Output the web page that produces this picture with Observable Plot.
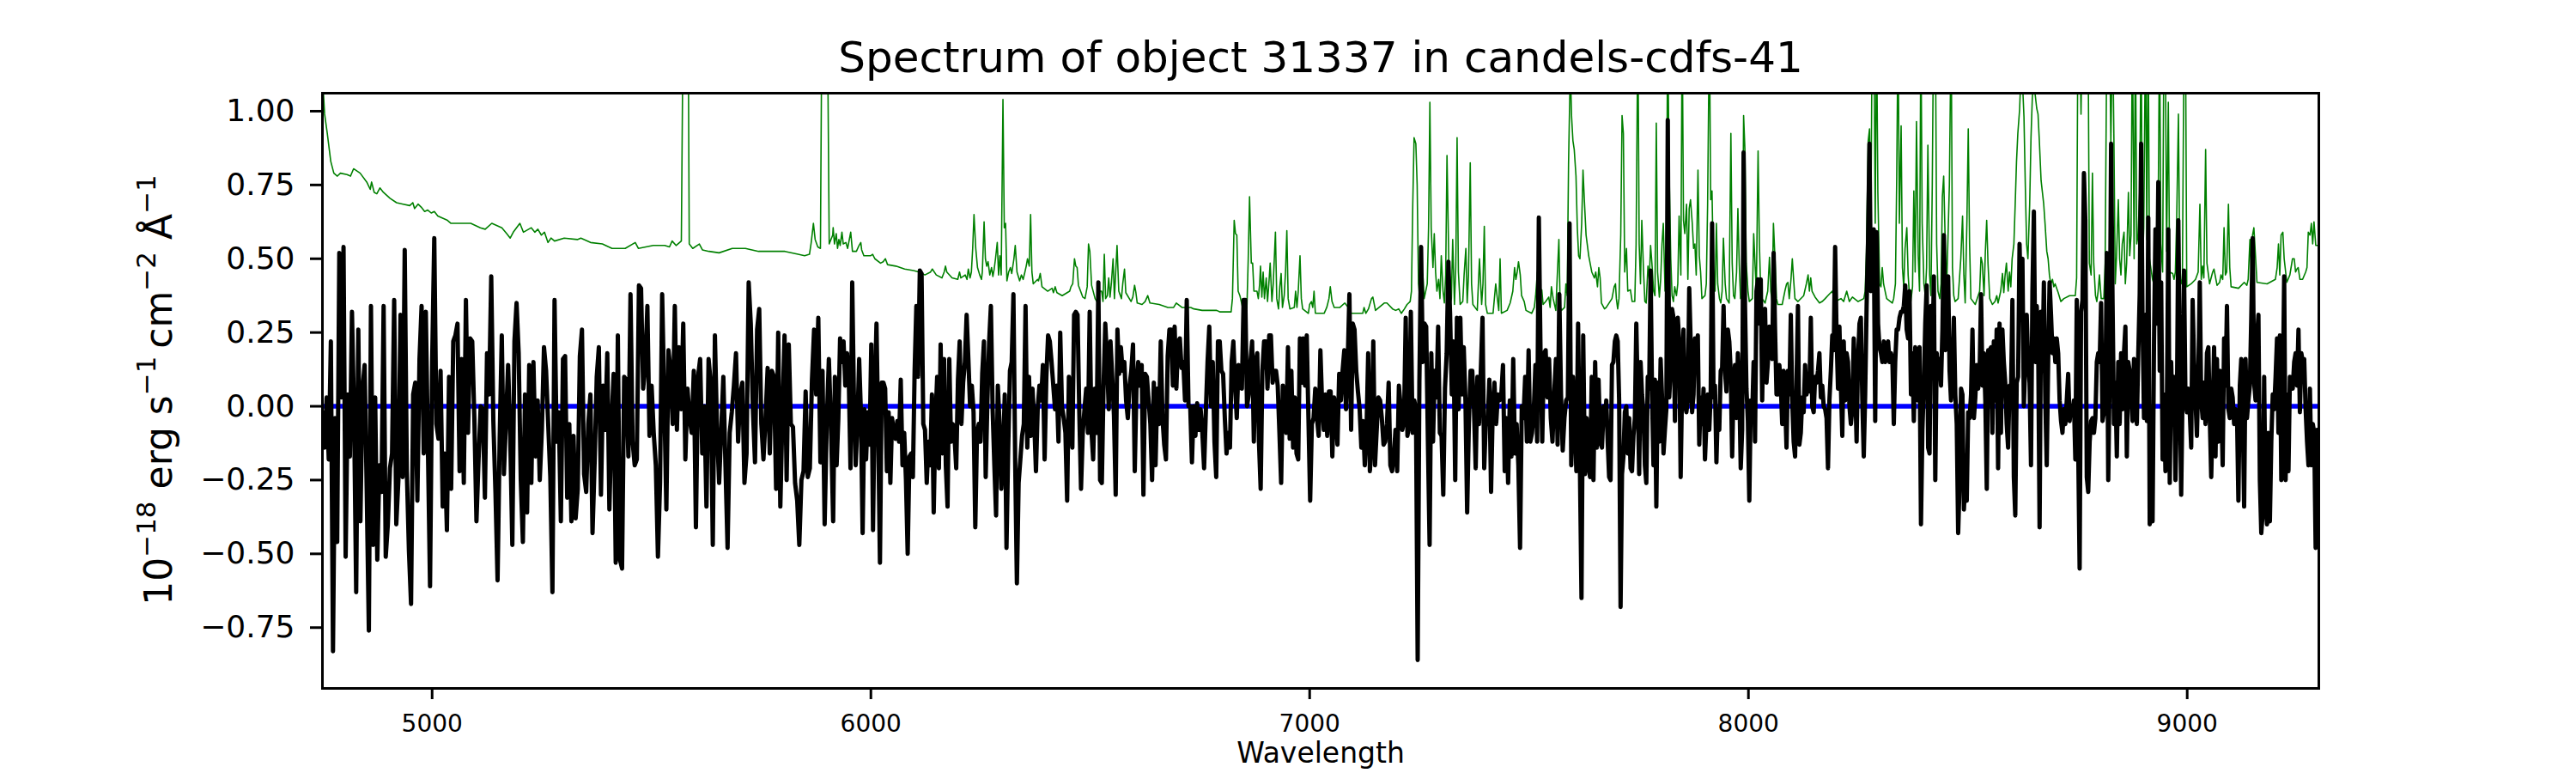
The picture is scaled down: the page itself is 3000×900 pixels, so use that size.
<!DOCTYPE html>
<html><head><meta charset="utf-8">
<script src="https://cdn.jsdelivr.net/npm/d3@7"></script>
<script src="https://cdn.jsdelivr.net/npm/@observablehq/plot@0.6"></script>
<style>html,body{margin:0;padding:0;background:#fff;} #chart{width:3000px;height:900px;}</style>
</head><body><div id="chart"></div>
<script>
const titleText = "Spectrum of object 31337 in candels-cdfs-41";
const xLabelText = "Wavelength";
const xTicks = [5000, 6000, 7000, 8000, 9000];
const yTicks = [-0.75, -0.5, -0.25, 0, 0.25, 0.5, 0.75, 1.0];
const xDomain = [4750, 9300];
const yDomain = [-0.956, 1.061];
const modelLevel = [0];

// black flux, read in five wavelength stretches (evenly sampled inside each)
const segStart = [4750, 5914, 6795, 7676, 8556];
const segEnd = [5909, 6791, 7674, 8553, 9296];
const fluxA = [-0.02,-0.14,0.03,-0.18,0.22,-0.83,-0.04,-0.46,0.52,0.03,0.54,-0.51,0.04,-0.17,0.32,-0.03,-0.63,0.26,-0.39,0.06,0.14,-0.29,-0.76,0.34,-0.47,0.03,-0.52,-0.2,-0.29,0.34,-0.51,-0.4,-0.21,-0.16,0.36,-0.4,-0.25,0.31,-0.24,0.53,-0.22,-0.49,-0.67,0.04,0.08,-0.32,0.16,0.34,-0.16,0.32,-0.14,-0.61,0.15,0.57,-0.06,-0.11,0.12,-0.34,-0.16,-0.42,0.1,-0.28,0.22,0.24,0.28,-0.22,0.16,-0.26,0.36,-0.09,0.23,0.22,-0.04,-0.39,-0.18,0,-0.01,-0.31,0.18,0.04,0.44,-0.05,-0.29,-0.59,-0.11,0.24,-0.23,-0.05,0.14,-0.1,-0.47,0.22,0.35,0.18,-0.25,-0.46,0.04,-0.36,0.14,-0.26,0.15,-0.17,0.02,-0.25,-0.08,0.2,0.12,-0.06,-0.24,-0.63,0.36,-0.12,-0.02,-0.39,0.16,0.17,-0.31,-0.06,-0.39,-0.1,-0.38,-0.28,0.17,0.26,-0.23,-0.29,-0.06,0.04,-0.43,-0.19,0.1,0.2,-0.3,0.07,-0.08,0.18,-0.35,-0.06,0.11,-0.53,0.24,-0.52,-0.55,0.1,0.09,-0.17,0.38,-0.12,-0.2,-0.18,0.41,0.4,0.06,0.14,0.34,-0.1,0.07,-0.09,-0.2,-0.51,-0.26,0.38,0.03,-0.35,0.19,0.12,-0.06,0.34,-0.08,0.2,-0.01,0.28,-0.18,0.06,-0.04,-0.09,0.12,-0.41,0.1,0.16,-0.16,0,-0.34,0.16,0.08,-0.47,0.24,-0.08,-0.26,-0.08,0.1,-0.2,-0.48,-0.09,-0.02,0.07,0.18,-0.12,0.04,0.08,-0.26,-0.16,0.42,0.28,-0.01,-0.19,0.26,0.33,-0.06,-0.18,-0.04,0.13,-0.16,0.12,0.1,-0.28,0.25,-0.34,-0.03,0.24,-0.25,0.21,-0.06,-0.07,-0.26,-0.32,-0.47,-0.25,-0.22,0.05,-0.24,-0.21,0.09,0.26,0.04,0.3,-0.19,0.12,-0.4,-0.06,0.16,-0.06];
const fluxB = [-0.39,0.1,-0.2,-0.04,0.23,0.15,0.22,0.07,0.18,0.1,-0.21,0.42,0.02,-0.2,-0.06,0.16,-0.02,-0.43,-0.01,-0.18,-0.02,-0.13,0.21,-0.42,0.04,0.28,-0.09,-0.53,0.08,0.08,0.06,-0.22,-0.02,-0.26,-0.04,-0.09,-0.11,-0.05,-0.12,0.09,-0.2,-0.09,-0.25,-0.5,-0.17,-0.16,-0.24,0.12,0.34,0.1,0.46,0.45,-0.06,-0.08,-0.26,-0.12,-0.2,0.04,-0.36,-0.05,0.1,-0.21,0.21,-0.16,0.16,-0.2,-0.34,0.16,-0.12,-0.06,-0.1,-0.21,0.09,0.22,-0.06,0.08,0.15,0.31,0.16,0,0.07,-0.02,-0.41,-0.09,-0.06,-0.12,0.11,0.22,-0.24,0.02,0.22,0.34,-0.01,-0.2,-0.37,0.07,-0.06,-0.28,-0.17,0.04,-0.48,-0.14,0.12,0.15,0.38,-0.18,-0.6,-0.26,-0.18,-0.1,-0.06,0.34,-0.14,0.1,-0.1,0.06,-0.05,-0.22,-0.01,0.07,0.02,0.14,-0.18,0.1,0.24,0.22,0.15,0.07,-0.01,0.07,-0.12,0.25,0,-0.04,-0.09,-0.32,0.1,-0.01,-0.14,0.31,0.32,0.31,-0.02,-0.28,-0.09,-0.01,0.06,-0.09,0.32,-0.08,-0.18,0.06,-0.09,0.42,-0.25,-0.26,0.07,0.28,0.16,-0.01,0.22,0.1,-0.03,-0.3,0.26,0.11,0.2,0.12,0.15,0.02,-0.04,0.07,0.12,0.21,-0.22,0.07,0.15,0.07,0.14,-0.3,0.11,0.1,0.02,-0.06,-0.25,0.08,-0.2,0.06,-0.06,0.22,-0.04,-0.13,-0.18,0.17,0.26,0.26,0.07,0.27,0.06,0.22,0.23,0.13,0.15,0.02,0.36,0,0,-0.19,0,-0.1,0.01,-0.08,-0.01,-0.09,-0.21,-0.02,0.15,0.27,0,0.15,-0.12,-0.24,0.22];
const fluxC = [0.22,0.12,0.11,-0.04,-0.16,-0.09,-0.14,0.15,0.22,0.07,-0.04,0.14,0.12,0.06,0.36,0.36,0,0.04,0.15,0.22,-0.12,0.15,0.18,-0.12,-0.28,0.12,0.22,0.22,0.06,0.24,0.24,0.08,0.12,0.12,0.07,-0.09,-0.26,0.07,-0.04,-0.09,0.2,-0.11,0.12,-0.14,0.03,-0.16,-0.18,0.23,0.08,0.23,0.07,0.24,-0.04,-0.32,-0.06,-0.04,0.06,-0.04,-0.1,0.19,0.01,-0.08,0.04,-0.1,0.05,0.05,-0.17,0.03,-0.01,-0.13,0.11,0.02,0.12,0.19,-0.01,0.15,0.38,-0.08,0.28,0.26,0.12,0.05,-0.01,-0.14,-0.05,-0.2,-0.09,0.18,-0.22,-0.12,0.22,-0.2,-0.08,0.03,0.02,-0.04,-0.13,-0.12,-0.06,0.08,-0.2,-0.22,-0.17,-0.08,-0.22,0.07,0,-0.08,-0.05,0.3,-0.1,-0.06,0.32,-0.09,0.02,-0.01,-0.86,0.08,0.54,0.15,0.28,0.27,-0.12,-0.47,0.18,-0.12,0.12,0.03,0.27,-0.09,-0.1,-0.3,0.06,0.18,0.49,0.31,0.04,0.22,-0.25,0.3,-0.01,0.3,0.04,0.2,0.02,-0.36,-0.06,0.12,0.12,-0.01,-0.21,0.1,-0.06,0.12,0.3,-0.21,-0.04,-0.06,0.09,-0.29,-0.01,0.08,-0.06,0.04,0.02,0.04,0.14,-0.22,-0.04,-0.26,0.02,-0.17,0.16,-0.16,-0.06,-0.2,-0.48,0,-0.04,0.1,-0.12,0.19,-0.12,-0.09,-0.02,0.14,-0.12,0.64,0.18,-0.12,0.18,0.19,0.03,0.16,-0.04,-0.12,0.04,0.16,-0.13,0.38,0.04,-0.15,-0.04,0.02,0.03,0.62,-0.2,0.1,-0.04,-0.22,0.28,-0.17,-0.65,0.24,-0.23,-0.04,-0.2,-0.24,0.1,-0.25,0.15,-0.14,0.09,-0.12,-0.14,0,-0.04];
const fluxD = [0.02,-0.12,-0.24,-0.25,0.14,0.15,0.22,0.24,0.22,0.02,-0.68,-0.23,-0.17,-0.02,0,-0.16,-0.04,-0.21,-0.22,-0.1,-0.04,0.28,0.04,-0.23,0.15,0.04,-0.02,-0.2,-0.26,0.1,0.06,0.46,0.04,-0.2,0.09,-0.34,0.08,-0.12,0.16,0.03,-0.16,-0.08,-0.01,0.97,0.03,0.12,0.33,0.3,-0.05,0.28,0.3,0.22,-0.24,0.07,0.26,0.01,-0.02,0.02,0.4,0.22,-0.02,0.04,0.23,0.14,0.24,-0.13,0.03,-0.06,0.06,-0.18,-0.06,0.04,-0.08,0.04,0.62,0.03,0.07,-0.19,-0.01,-0.08,0.12,0.13,0.34,0.12,0.05,0.26,0.22,0.12,-0.17,0.07,0.14,-0.04,0.18,0.06,-0.21,-0.08,0.86,0.34,0.06,-0.05,-0.32,0.02,-0.04,0.15,-0.12,0.39,0.43,0.28,0.43,0.02,0.31,0.33,0.08,0.15,0.27,0.26,0.16,0.52,0.26,0.04,0.04,0.14,0.07,-0.06,0.12,0.02,-0.14,0.12,0.04,0.31,0.02,-0.12,-0.17,0.08,0.34,-0.13,-0.09,0.03,-0.02,0.14,0.04,0.1,0.05,0.3,0,-0.02,0.1,0.08,0.12,0.18,0.03,0.07,0,-0.01,-0.04,-0.21,0.02,0.12,0.24,0.19,0.54,0.24,0.06,0.27,0.07,-0.1,0.22,0.02,0.18,0.15,0,-0.06,-0.01,0.23,0.08,-0.12,0.16,0.28,0.3,0.02,-0.17,0.04,0.34,0.56,0.89,0.39,0.55,0.6,-0.05,0.59,0.28,0.2,0.18,0.15,0.22,0.15,0.18,0.22,0.15,0.18,0.16,-0.06,0.15,0.26,0.26,0.3,0.32,0.32,0.34,0.41,0.26,0.23,0.39,0.04,0.18,-0.05,0.2,0.07,0.02,0.2,-0.4,-0.08,0.07,0.28,0.41,-0.14,-0.16,0.34,0.15,0.44,-0.25,0.18,0.12,0.16,0.07,0.26,0.58,0.19,0.2,0.44,0.12,0.02,0.1,0.3,0.04,-0.06,-0.43,-0.26,0.06,0.04,-0.35,-0.24,-0.32,-0.02,-0.04,0.04,0.26,-0.04,0.03,0.14,0.06,0.12,0.38,0.07,0.18,0.02,-0.28,0.19,0.19,0.2];
const fluxE = [-0.09,0.22,0.02,0.26,-0.21,0.28,-0.09,0.26,0.15,0.08,-0.06,-0.14,0.07,0.04,0.36,-0.24,-0.37,0.08,0.1,0.55,0.31,0.5,0,0.15,0.31,0.15,0.08,-0.2,0.39,0.66,0.15,0.34,0.23,-0.41,0.32,0.12,0.42,0.02,-0.2,0.15,0.42,0.31,0.18,0.23,0.15,0.23,0.18,0.02,-0.05,-0.09,-0.01,-0.06,0.02,0.11,-0.05,0,-0.02,0.02,-0.18,0.36,-0.14,-0.55,0.32,0.36,0.79,0.63,-0.24,-0.29,-0.12,-0.05,-0.04,-0.09,-0.04,0.15,0.18,0.15,0.35,-0.05,-0.02,0.04,0.52,-0.25,0.11,0.89,0.36,-0.06,0.08,-0.17,0.15,-0.06,0.18,-0.01,0.18,0.27,-0.17,0.15,0.12,0.04,-0.05,0.16,0.15,-0.06,0.18,0.38,0.89,0.28,-0.04,0.31,-0.05,0.64,-0.4,-0.04,-0.39,0.22,0.6,0.28,0.76,0.12,0.42,-0.18,0.04,-0.22,-0.01,0.6,-0.26,0.15,-0.05,0.1,-0.25,-0.01,0.63,0.12,-0.3,0.07,0.46,0.02,-0.02,0.06,-0.02,-0.14,0.36,0.15,0.02,-0.1,0.11,0.42,0.02,-0.04,0.08,-0.06,0.18,0.2,-0.04,-0.24,-0.02,0.2,-0.17,0.16,-0.12,0.12,0.02,-0.2,0.23,0.07,0.34,-0.01,-0.04,0.06,0.03,-0.06,-0.01,-0.02,-0.32,0.07,0.16,-0.01,-0.34,0.16,-0.04,0.02,0.07,0.3,0.57,0.08,0.02,0.23,0.31,-0.25,-0.43,-0.36,0.1,-0.33,-0.4,-0.09,-0.39,-0.12,0.04,-0.01,0.1,0.23,-0.09,0.24,-0.25,0.03,0.44,-0.25,0.04,-0.22,0.1,0.06,0.06,0.15,0.18,0.07,0.26,-0.02,0.18,0.15,0.16,-0.01,-0.12,-0.2,0.06,-0.2,-0.06,-0.09,-0.48,-0.08];

// green noise curve: [wavelength, value]
const errPairs = [[4750,1.12],[4755,0.99],[4761,0.925],[4769,0.83],[4776,0.79],[4784,0.78],[4791,0.79],[4806,0.785],[4814,0.78],[4821,0.805],[4836,0.79],[4851,0.76],[4859,0.735],[4862,0.76],[4868,0.725],[4874,0.72],[4881,0.74],[4889,0.725],[4904,0.705],[4919,0.69],[4934,0.685],[4949,0.68],[4956,0.69],[4960,0.67],[4968,0.685],[4975,0.675],[4983,0.66],[4990,0.665],[4998,0.655],[5005,0.66],[5013,0.645],[5035,0.63],[5043,0.62],[5065,0.62],[5088,0.62],[5110,0.605],[5121,0.6],[5136,0.62],[5159,0.605],[5170,0.585],[5178,0.57],[5185,0.59],[5200,0.62],[5208,0.59],[5226,0.605],[5234,0.59],[5241,0.6],[5249,0.58],[5256,0.59],[5264,0.555],[5271,0.57],[5279,0.56],[5301,0.57],[5331,0.565],[5339,0.57],[5361,0.555],[5388,0.55],[5410,0.535],[5440,0.535],[5463,0.555],[5470,0.535],[5504,0.545],[5530,0.545],[5541,0.54],[5547,0.56],[5556,0.545],[5568,0.56],[5573,1.5],[5577,2.0],[5583,1.5],[5586,0.55],[5594,0.535],[5609,0.55],[5616,0.53],[5631,0.525],[5654,0.52],[5684,0.535],[5714,0.535],[5744,0.525],[5774,0.525],[5804,0.525],[5834,0.515],[5849,0.51],[5860,0.515],[5864,0.555],[5869,0.62],[5873,0.565],[5879,0.54],[5885,0.535],[5889,1.5],[5894,2.0],[5900,1.5],[5905,0.55],[5913,0.58],
[5914,0.605],[5917,0.55],[5921,0.585],[5924,0.535],[5927,0.565],[5930,0.545],[5934,0.59],[5937,0.55],[5943,0.555],[5947,0.535],[5954,0.59],[5958,0.525],[5967,0.525],[5973,0.545],[5977,0.555],[5979,0.53],[5984,0.51],[5999,0.51],[6004,0.515],[6009,0.5],[6022,0.485],[6028,0.49],[6033,0.5],[6038,0.48],[6057,0.475],[6077,0.465],[6097,0.46],[6110,0.455],[6123,0.445],[6136,0.455],[6140,0.465],[6149,0.445],[6162,0.435],[6167,0.455],[6170,0.475],[6173,0.455],[6185,0.435],[6198,0.43],[6202,0.455],[6205,0.435],[6215,0.445],[6219,0.43],[6222,0.465],[6226,0.435],[6229,0.455],[6232,0.535],[6235,0.65],[6239,0.535],[6243,0.47],[6248,0.445],[6252,0.43],[6254,0.455],[6258,0.625],[6261,0.5],[6264,0.475],[6267,0.49],[6271,0.445],[6275,0.47],[6278,0.44],[6281,0.465],[6284,0.5],[6288,0.555],[6291,0.445],[6294,0.51],[6297,0.445],[6301,1.04],[6304,0.605],[6307,0.62],[6310,0.425],[6314,0.455],[6318,0.47],[6321,0.45],[6326,0.5],[6329,0.545],[6333,0.455],[6339,0.425],[6343,0.445],[6347,0.43],[6351,0.455],[6354,0.475],[6357,0.5],[6361,0.475],[6364,0.65],[6367,0.455],[6370,0.415],[6380,0.43],[6382,0.425],[6386,0.45],[6390,0.405],[6403,0.39],[6413,0.4],[6416,0.385],[6420,0.405],[6424,0.385],[6436,0.375],[6453,0.39],[6456,0.405],[6460,0.415],[6464,0.5],[6467,0.475],[6470,0.47],[6473,0.41],[6483,0.37],[6488,0.365],[6493,0.405],[6496,0.55],[6499,0.525],[6503,0.41],[6511,0.365],[6515,0.355],[6522,0.39],[6526,0.39],[6529,0.355],[6532,0.515],[6535,0.365],[6539,0.375],[6542,0.435],[6545,0.37],[6548,0.415],[6552,0.5],[6555,0.365],[6558,0.455],[6561,0.545],[6565,0.39],[6571,0.365],[6574,0.415],[6578,0.465],[6581,0.385],[6593,0.355],[6597,0.37],[6601,0.41],[6604,0.385],[6607,0.35],[6618,0.345],[6625,0.355],[6631,0.375],[6636,0.35],[6657,0.345],[6677,0.335],[6690,0.335],[6696,0.35],[6709,0.335],[6729,0.335],[6736,0.33],[6755,0.325],[6775,0.325],[6788,0.325],
[6795,0.32],[6821,0.32],[6824,0.365],[6828,0.63],[6831,0.585],[6834,0.58],[6837,0.39],[6841,0.375],[6847,0.335],[6854,0.325],[6857,0.335],[6860,0.5],[6863,0.71],[6867,0.485],[6870,0.485],[6873,0.39],[6880,0.39],[6883,0.365],[6886,0.415],[6888,0.475],[6891,0.37],[6894,0.455],[6897,0.365],[6901,0.435],[6904,0.355],[6907,0.415],[6910,0.485],[6914,0.355],[6917,0.415],[6922,0.59],[6925,0.365],[6929,0.33],[6932,0.405],[6935,0.45],[6938,0.335],[6942,0.375],[6945,0.455],[6948,0.595],[6951,0.365],[6955,0.33],[6965,0.335],[6968,0.39],[6971,0.335],[6974,0.39],[6978,0.51],[6981,0.365],[6984,0.33],[6997,0.315],[7000,0.345],[7004,0.355],[7007,0.335],[7010,0.39],[7013,0.315],[7033,0.315],[7039,0.335],[7044,0.365],[7047,0.405],[7051,0.355],[7056,0.335],[7069,0.335],[7080,0.35],[7088,0.335],[7095,0.315],[7121,0.315],[7124,0.335],[7128,0.315],[7134,0.33],[7141,0.365],[7144,0.37],[7150,0.325],[7170,0.35],[7176,0.35],[7189,0.33],[7196,0.325],[7203,0.33],[7209,0.315],[7216,0.33],[7222,0.345],[7229,0.355],[7232,0.39],[7235,0.685],[7238,0.91],[7242,0.89],[7245,0.75],[7248,0.415],[7251,0.365],[7255,0.455],[7258,0.445],[7261,0.365],[7268,0.415],[7271,0.605],[7274,1.03],[7277,0.605],[7281,0.47],[7284,0.585],[7287,0.455],[7290,0.39],[7294,0.43],[7297,0.365],[7300,0.51],[7304,0.39],[7307,0.35],[7310,0.445],[7313,0.85],[7317,0.5],[7320,0.345],[7323,0.365],[7326,0.565],[7330,0.345],[7333,0.47],[7336,0.91],[7339,0.455],[7343,0.345],[7349,0.355],[7352,0.445],[7356,0.535],[7359,0.35],[7362,0.445],[7366,0.825],[7369,0.415],[7372,0.345],[7382,0.325],[7387,0.5],[7392,0.345],[7395,0.415],[7398,0.61],[7401,0.345],[7405,0.315],[7418,0.315],[7424,0.415],[7427,0.375],[7431,0.325],[7434,0.5],[7437,0.315],[7450,0.325],[7457,0.35],[7463,0.39],[7467,0.47],[7470,0.43],[7473,0.455],[7476,0.49],[7480,0.445],[7483,0.375],[7489,0.355],[7493,0.325],[7506,0.315],[7512,0.335],[7515,0.375],[7519,0.455],[7522,0.39],[7529,0.395],[7532,0.345],[7538,0.355],[7545,0.37],[7548,0.335],[7551,0.405],[7555,0.365],[7561,0.325],[7564,0.43],[7568,0.565],[7571,0.335],[7574,0.325],[7581,0.335],[7584,0.415],[7587,0.375],[7590,0.82],[7594,1.15],[7597,0.98],[7600,0.9],[7603,0.87],[7607,0.78],[7610,0.605],[7613,0.51],[7616,0.5],[7620,0.62],[7623,0.8],[7626,0.7],[7630,0.58],[7636,0.51],[7643,0.455],[7649,0.435],[7652,0.455],[7656,0.405],[7659,0.47],[7662,0.435],[7665,0.35],[7672,0.33],
[7676,0.335],[7689,0.365],[7694,0.405],[7697,0.415],[7699,0.365],[7702,0.33],[7705,0.365],[7709,0.58],[7712,0.985],[7715,0.925],[7718,0.455],[7722,0.535],[7725,0.39],[7731,0.395],[7735,0.355],[7741,0.355],[7744,0.55],[7748,1.3],[7751,0.55],[7754,0.415],[7757,0.63],[7761,0.455],[7764,0.355],[7767,0.35],[7771,0.475],[7774,0.43],[7777,0.545],[7780,0.485],[7784,0.39],[7787,0.375],[7790,0.96],[7793,0.455],[7797,0.37],[7800,0.43],[7803,0.55],[7806,0.62],[7810,0.39],[7813,0.5],[7816,1.3],[7819,0.82],[7823,0.5],[7826,0.375],[7829,0.355],[7832,0.405],[7836,0.375],[7839,0.415],[7842,0.645],[7846,0.445],[7849,1.3],[7852,0.63],[7855,0.585],[7859,0.685],[7862,0.43],[7865,0.67],[7868,0.7],[7872,0.62],[7875,0.535],[7878,0.55],[7881,0.445],[7885,0.8],[7888,0.51],[7891,0.455],[7894,0.365],[7901,0.375],[7904,0.415],[7907,0.685],[7911,1.3],[7914,0.7],[7917,0.73],[7920,0.47],[7924,0.39],[7927,0.62],[7930,0.415],[7934,0.365],[7937,0.35],[7940,0.39],[7943,0.57],[7947,0.415],[7950,0.365],[7956,0.35],[7960,0.925],[7963,0.485],[7966,0.375],[7969,0.365],[7973,0.455],[7976,0.67],[7979,0.485],[7982,0.365],[7986,0.375],[7989,0.985],[7992,0.87],[7995,0.485],[7999,0.39],[8002,0.355],[8009,0.365],[8012,0.585],[8015,0.485],[8018,0.39],[8022,0.865],[8025,0.55],[8028,0.39],[8031,0.365],[8038,0.35],[8044,0.39],[8048,0.505],[8051,0.39],[8054,0.355],[8057,0.62],[8061,0.485],[8064,0.365],[8067,0.345],[8077,0.345],[8083,0.39],[8087,0.415],[8090,0.42],[8093,0.365],[8097,0.43],[8100,0.5],[8103,0.43],[8106,0.365],[8113,0.355],[8126,0.375],[8132,0.415],[8136,0.445],[8139,0.39],[8142,0.435],[8145,0.39],[8152,0.37],[8162,0.35],[8168,0.355],[8175,0.365],[8181,0.375],[8191,0.39],[8198,0.355],[8211,0.365],[8217,0.355],[8224,0.39],[8230,0.355],[8237,0.37],[8250,0.355],[8263,0.365],[8266,0.39],[8269,0.525],[8273,0.9],[8276,0.94],[8279,0.58],[8282,1.3],[8286,1.3],[8289,0.62],[8292,1.3],[8295,0.725],[8299,0.415],[8302,0.405],[8305,0.47],[8308,0.415],[8315,0.365],[8328,0.35],[8331,0.365],[8335,0.415],[8338,0.78],[8341,1.3],[8344,0.62],[8348,0.95],[8351,0.47],[8354,0.405],[8357,0.535],[8361,0.605],[8364,0.445],[8367,0.375],[8370,0.355],[8374,0.405],[8377,0.73],[8380,0.455],[8383,0.965],[8387,0.51],[8390,0.39],[8393,1.3],[8396,0.62],[8400,0.415],[8403,0.375],[8406,0.47],[8409,0.885],[8413,0.445],[8416,0.375],[8419,0.75],[8422,1.3],[8426,1.3],[8429,0.55],[8432,0.39],[8436,0.365],[8439,0.415],[8442,0.71],[8445,0.78],[8449,0.525],[8452,0.415],[8455,0.58],[8458,0.75],[8462,1.3],[8465,0.47],[8468,0.375],[8471,0.355],[8478,0.365],[8484,0.5],[8488,0.645],[8491,0.445],[8494,0.35],[8498,0.63],[8501,0.94],[8504,0.55],[8507,0.365],[8517,0.345],[8527,0.39],[8530,0.505],[8533,0.485],[8537,0.375],[8540,0.525],[8543,0.63],[8546,0.485],[8550,0.365],[8556,0.345],
[8562,0.355],[8566,0.375],[8569,0.35],[8575,0.39],[8579,0.45],[8582,0.385],[8585,0.445],[8588,0.485],[8592,0.39],[8595,0.455],[8598,0.405],[8601,0.5],[8605,0.55],[8608,0.685],[8611,0.83],[8614,0.925],[8618,1.005],[8621,1.12],[8624,1.12],[8628,0.98],[8631,0.75],[8634,0.55],[8637,0.5],[8641,0.685],[8644,0.91],[8647,1.045],[8650,1.1],[8654,1.05],[8657,1.01],[8660,0.99],[8663,0.9],[8667,0.765],[8670,0.725],[8673,0.685],[8676,0.62],[8680,0.525],[8683,0.5],[8686,0.445],[8689,0.415],[8693,0.43],[8696,0.405],[8699,0.415],[8706,0.385],[8712,0.355],[8719,0.365],[8732,0.375],[8745,0.375],[8748,0.435],[8751,1.3],[8755,1.3],[8758,0.99],[8761,1.3],[8764,1.3],[8768,1.3],[8771,1.3],[8774,1.3],[8777,0.485],[8781,0.445],[8784,0.79],[8787,0.485],[8791,0.375],[8794,0.355],[8797,0.39],[8800,0.445],[8804,0.365],[8810,0.365],[8813,0.485],[8817,1.3],[8820,1.3],[8823,1.3],[8826,0.89],[8830,1.3],[8833,0.9],[8836,0.415],[8839,0.51],[8843,0.7],[8846,0.5],[8849,0.445],[8852,0.55],[8856,0.59],[8859,0.415],[8862,0.485],[8866,0.725],[8869,0.51],[8872,0.58],[8875,1.3],[8879,0.5],[8882,1.3],[8885,0.55],[8888,0.58],[8892,0.74],[8895,1.3],[8898,0.47],[8901,0.605],[8905,1.3],[8908,0.565],[8911,1.3],[8914,0.5],[8921,0.43],[8924,0.415],[8931,0.445],[8934,0.685],[8937,1.3],[8940,0.55],[8944,0.455],[8947,1.3],[8950,1.3],[8953,0.525],[8957,1.03],[8960,0.455],[8967,0.45],[8970,0.43],[8973,0.455],[8976,0.63],[8980,0.99],[8983,0.485],[8986,0.415],[8989,0.43],[8993,1.3],[8996,1.3],[8999,0.405],[9009,0.415],[9019,0.43],[9025,0.455],[9029,0.685],[9032,0.43],[9035,0.475],[9038,0.435],[9042,0.87],[9045,0.485],[9051,0.415],[9058,0.455],[9061,0.465],[9068,0.41],[9074,0.42],[9077,0.445],[9081,0.43],[9084,0.605],[9087,0.445],[9090,0.455],[9094,0.685],[9097,0.47],[9100,0.405],[9117,0.4],[9130,0.42],[9136,0.41],[9139,0.43],[9143,0.565],[9146,0.455],[9149,0.58],[9152,0.605],[9156,0.5],[9159,0.42],[9182,0.415],[9201,0.43],[9205,0.47],[9208,0.55],[9211,0.445],[9214,0.58],[9218,0.59],[9221,0.5],[9227,0.42],[9234,0.445],[9240,0.5],[9244,0.5],[9247,0.455],[9250,0.465],[9253,0.47],[9257,0.43],[9263,0.43],[9270,0.455],[9273,0.47],[9276,0.59],[9280,0.58],[9283,0.62],[9286,0.55],[9289,0.625],[9293,0.545],[9299,0.545]];

const fluxSegs = [fluxA, fluxB, fluxC, fluxD, fluxE];
const spectrum = fluxSegs.flatMap((arr, s) => arr.map((f, i) => ({
  wave: segStart[s] + (segEnd[s] - segStart[s]) * i / (arr.length - 1),
  flux: f
})));
const noise = errPairs.map(([wave, err]) => ({wave, err}));

const chart = Plot.plot({
  width: 3000,
  height: 900,
  marginLeft: 375,
  marginRight: 300,
  marginTop: 108,
  marginBottom: 99,
  style: {fontFamily: "'DejaVu Sans', sans-serif", background: "#fff", color: "#000"},
  x: {domain: xDomain},
  y: {domain: yDomain},
  marks: [
    Plot.line(noise, {x: "wave", y: "err", stroke: "#008000", strokeWidth: 1.6, clip: true}),
    Plot.ruleY(modelLevel, {stroke: "#0000ff", strokeWidth: 5.5}),
    Plot.line(spectrum, {x: "wave", y: "flux", stroke: "#000", strokeWidth: 5, clip: true}),
    Plot.axisX({ticks: xTicks, tickFormat: d3.format("d"), tickSize: 13, tickPadding: 18, fontSize: 28, strokeWidth: 3, label: null}),
    Plot.axisY({ticks: yTicks, tickFormat: d3.format(".2f"), tickSize: 14, tickPadding: 18, fontSize: 36, strokeWidth: 3, label: null}),
    Plot.frame({stroke: "#000", strokeWidth: 3}),
    Plot.text([titleText], {text: d => d, frameAnchor: "top", lineAnchor: "middle", dy: -41, fontSize: 50, fill: "#000"}),
    Plot.text([xLabelText], {text: d => d, frameAnchor: "bottom", lineAnchor: "middle", dy: 76, fontSize: 33, fill: "#000"})
  ]
});
document.getElementById("chart").appendChild(chart);

// y-axis label with superscripts
const yl = d3.select(chart).append("text")
  .attr("transform", "translate(200,454) rotate(-90)")
  .attr("text-anchor", "middle")
  .attr("font-size", 44)
  .attr("fill", "#000")
  .style("white-space", "pre");
const parts = [["10", false], ["−18", true], [" erg s", false], ["−1", true], ["\u2009cm", false], ["−2", true], [" Å", false], ["−1", true]];
parts.forEach(([t, sup], i) => {
  const prevSup = i > 0 && parts[i - 1][1];
  const ts = yl.append("tspan").text(t);
  if (sup) ts.attr("font-size", 31).attr("dy", -19);
  else if (prevSup) ts.attr("dy", 19);
});
</script>
</body></html>
